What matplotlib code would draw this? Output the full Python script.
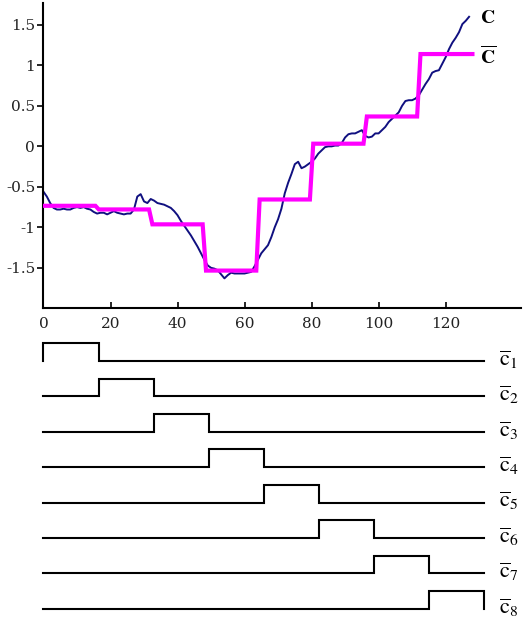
import numpy as np
import matplotlib
matplotlib.use("Agg")
import matplotlib.pyplot as plt

# ---------------- data ----------------
# original signal C (one value per sample)
c_values = [
    -0.56, -0.62, -0.70, -0.76, -0.78, -0.78, -0.77, -0.78, -0.78, -0.76,
    -0.75, -0.76, -0.75, -0.77, -0.78, -0.81, -0.83, -0.82, -0.82, -0.84,
    -0.82, -0.80, -0.82, -0.83, -0.84, -0.83, -0.83, -0.78, -0.62, -0.59,
    -0.68, -0.70, -0.65, -0.67, -0.70, -0.71, -0.72, -0.74, -0.76, -0.80,
    -0.85, -0.92, -0.98, -1.04, -1.10, -1.17, -1.24, -1.32, -1.40, -1.47,
    -1.50, -1.51, -1.53, -1.58, -1.63, -1.59, -1.56, -1.57, -1.57, -1.57,
    -1.57, -1.56, -1.55, -1.48, -1.40, -1.32, -1.27, -1.22, -1.12, -1.00,
    -0.90, -0.77, -0.58, -0.45, -0.34, -0.22, -0.19, -0.27, -0.25, -0.22,
    -0.19, -0.15, -0.09, -0.05, -0.01, 0.00, 0.00, 0.01, 0.01, 0.04,
    0.11, 0.15, 0.16, 0.16, 0.18, 0.20, 0.13, 0.11, 0.12, 0.16,
    0.16, 0.20, 0.24, 0.30, 0.34, 0.38, 0.42, 0.50, 0.56, 0.57,
    0.57, 0.59, 0.63, 0.70, 0.77, 0.83, 0.91, 0.93, 0.94, 1.02,
    1.10, 1.20, 1.28, 1.34, 1.41, 1.51, 1.55, 1.60,
]

# segment means C-bar (8 segments of 16 samples)
segment_edges = [0, 16, 32, 48, 64, 80, 96, 112, 128]
segment_means = [-0.734, -0.779, -0.963, -1.534, -0.656, 0.033, 0.369, 1.14]

# indicator pulses for c1..c8
pulse_labels = [r"$\overline{\mathrm{c}}_{%d}$" % i for i in range(1, 9)]

x_ticks = [0, 20, 40, 60, 80, 100, 120]
y_ticks = [-1.5, -1, -0.5, 0, 0.5, 1, 1.5]
y_ticklabels = ["-1.5", "-1", "-0.5", "0", "0.5", "1", "1.5"]

# ---------------- style ----------------
plt.rcParams["axes.unicode_minus"] = False
plt.rcParams["mathtext.fontset"] = "stix"
plt.rcParams["font.family"] = ["DejaVu Serif"]

fig = plt.figure(figsize=(5.29, 6.18), dpi=100)
fig.patch.set_facecolor("white")

# ---------------- top panel ----------------
ax = fig.add_axes([0.0822, 0.5011, 0.9027, 0.494])
x = np.arange(len(c_values))
ax.plot(x, c_values, color="#101080", lw=1.4, zorder=2)

# step line of the segment means, with one-sample transitions
sx, sy = [], []
n = len(segment_means)
for k, v in enumerate(segment_means):
    x0 = segment_edges[k] + (0.5 if k > 0 else 0)
    x1 = segment_edges[k + 1] - (0.5 if k < n - 1 else 0)
    sx += [x0, x1]
    sy += [v, v]
ax.plot(sx, sy, color="#ff00ff", lw=3.0, zorder=3, solid_joinstyle="miter")

ax.set_xlim(0, 142.5)
ax.set_ylim(-2.0, 1.77)
ax.spines["top"].set_visible(False)
ax.spines["right"].set_visible(False)
for s in ("left", "bottom"):
    ax.spines[s].set_linewidth(1.5)
ax.set_xticks(x_ticks)
ax.set_xticklabels([str(t) for t in x_ticks])
ax.set_yticks(y_ticks)
ax.set_yticklabels(y_ticklabels)
ax.tick_params(axis="x", direction="in", length=4, width=1.2, pad=6,
               labelsize=11, labelcolor="#222222")
ax.tick_params(axis="y", direction="out", length=4, width=1.2, pad=2,
               labelsize=11, labelcolor="#222222")

ax.text(130.2, 1.59, r"$\mathbf{C}$", fontsize=14, ha="left", va="center")
ax.text(130.2, 1.11, r"$\overline{\mathbf{C}}$", fontsize=14, ha="left",
        va="center")

# ---------------- bottom panel ----------------
bx = fig.add_axes([0.0822, 0.00356, (484 - 43.5) / 529, 0.4581])
bx.set_xlim(0, 128)
bx.set_ylim(-7.2, 0.8)
bx.axis("off")
h = 0.5
for i in range(8):
    s = segment_edges[i]
    e = segment_edges[i + 1]
    base = -i
    px = [segment_edges[0], s, s, e, e, segment_edges[-1]]
    py = [base, base, base + h, base + h, base, base]
    bx.plot(px, py, color="black", lw=1.5, clip_on=False,
            solid_joinstyle="miter")
    bx.text(132.3, base + 0.04, pulse_labels[i], fontsize=16,
            ha="left", va="center")

fig.savefig("out.png", dpi=100, facecolor="white")
